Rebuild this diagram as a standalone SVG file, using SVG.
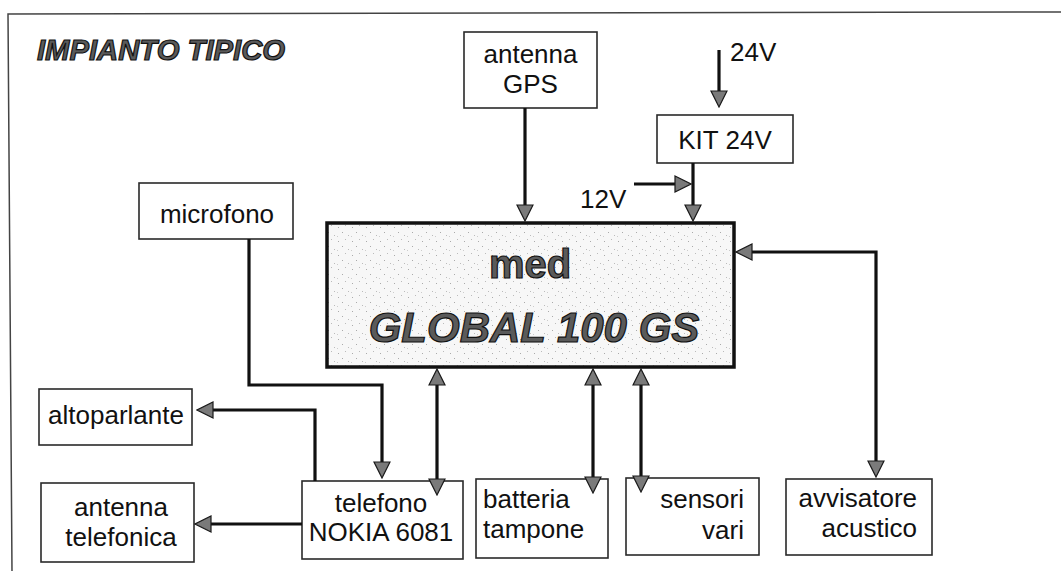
<svg xmlns="http://www.w3.org/2000/svg" width="1061" height="571" viewBox="0 0 1061 571">
<style>
.box{fill:#fff;stroke:#2a2a2a;stroke-width:1.6}
.t{font-family:"Liberation Sans",Arial,sans-serif;font-size:26px;fill:#111}
.c{text-anchor:middle}
.e{text-anchor:end}
.wire{fill:none;stroke:#111;stroke-width:3.2;stroke-linejoin:miter}
.big{font-family:"Liberation Sans",Arial,sans-serif;font-weight:bold;fill:#5a5a5a;stroke:#111;stroke-width:1.2}
</style>
<defs>
<marker id="ah" viewBox="0 0 18 18" refX="2" refY="9" markerWidth="18" markerHeight="18" markerUnits="userSpaceOnUse" orient="auto-start-reverse">
<path d="M1,1 L17,9 L1,17 Z" fill="#7a7a7a" stroke="#1a1a1a" stroke-width="1.2"/>
</marker>
<pattern id="stip" width="14" height="14" patternUnits="userSpaceOnUse">
<rect width="14" height="14" fill="#f7f7f7"/>
<rect x="2" y="3" width="1" height="1" fill="#aaa"/>
<rect x="9" y="1" width="1" height="1" fill="#bbb"/>
<rect x="6" y="8" width="1" height="1" fill="#aaa"/>
<rect x="12" y="11" width="1" height="1" fill="#bbb"/>
<rect x="1" y="12" width="1" height="1" fill="#ccc"/>
</pattern>
</defs>
<rect width="1061" height="571" fill="#fff"/>
<path d="M12,571 L8,14 L1061,12" fill="none" stroke="#444" stroke-width="1.5"/>
<text x="37" y="60" class="big" font-size="29" font-style="italic" stroke-width="0.9" textLength="248" lengthAdjust="spacingAndGlyphs">IMPIANTO TIPICO</text>

<g id="antenna-gps">
<rect class="box" x="464" y="32" width="133" height="76"/>
<text class="t c" x="530.5" y="63">antenna</text>
<text class="t c" x="530.5" y="93">GPS</text>
</g>
<g id="label-24v"><text class="t" x="730" y="61" font-size="25">24V</text></g>
<g id="kit-24v">
<rect class="box" x="657" y="115" width="136" height="48"/>
<text class="t c" x="725" y="149">KIT 24V</text>
</g>
<g id="label-12v"><text class="t" x="580" y="208" font-size="25">12V</text></g>
<g id="microfono">
<rect class="box" x="139" y="183" width="154" height="56"/>
<text class="t c" x="217" y="223">microfono</text>
</g>
<g id="global">
<rect x="327" y="223" width="407" height="144" fill="url(#stip)" stroke="#111" stroke-width="3.5"/>
<text class="big c" x="530" y="278" font-size="40">med</text>
<text class="big c" x="534" y="342" font-size="42" font-style="italic">GLOBAL 100 GS</text>
</g>
<g id="altoparlante">
<rect class="box" x="39" y="389" width="153" height="56"/>
<text class="t c" x="116" y="424">altoparlante</text>
</g>
<g id="antenna-telefonica">
<rect class="box" x="41" y="483" width="153" height="79"/>
<text class="t c" x="121" y="516">antenna</text>
<text class="t c" x="121" y="546">telefonica</text>
</g>
<g id="telefono">
<rect class="box" x="302" y="481" width="161" height="78"/>
<text class="t c" x="381" y="512">telefono</text>
<text class="t c" x="381" y="541">NOKIA 6081</text>
</g>
<g id="batteria">
<rect class="box" x="476" y="479" width="132" height="79"/>
<text class="t" x="483" y="508">batteria</text>
<text class="t" x="483" y="538">tampone</text>
</g>
<g id="sensori">
<rect class="box" x="626" y="478" width="133" height="77"/>
<text class="t e" x="744" y="508">sensori</text>
<text class="t e" x="744" y="539">vari</text>
</g>
<g id="avvisatore">
<rect class="box" x="786" y="479" width="146" height="76"/>
<text class="t e" x="917" y="507">avvisatore</text>
<text class="t e" x="917" y="537">acustico</text>
</g>

<g id="connectors">
<path class="wire" d="M525,108 V206" marker-end="url(#ah)"/>
<path class="wire" d="M719,50 V92" marker-end="url(#ah)"/>
<path class="wire" d="M634,184 H676" marker-end="url(#ah)"/>
<path class="wire" d="M693,163 V206" marker-end="url(#ah)"/>
<path class="wire" d="M249,239 V385 H382 V463" marker-end="url(#ah)"/>
<path class="wire" d="M315,481 V410 H212" marker-end="url(#ah)"/>
<path class="wire" d="M302,524 H210" marker-end="url(#ah)"/>
<path class="wire" d="M437,384 V480" marker-start="url(#ah)" marker-end="url(#ah)"/>
<path class="wire" d="M593,384 V478" marker-start="url(#ah)" marker-end="url(#ah)"/>
<path class="wire" d="M641,384 V477" marker-start="url(#ah)" marker-end="url(#ah)"/>
<path class="wire" d="M876,462 V252 H751" marker-start="url(#ah)" marker-end="url(#ah)"/>
</g>
</svg>
